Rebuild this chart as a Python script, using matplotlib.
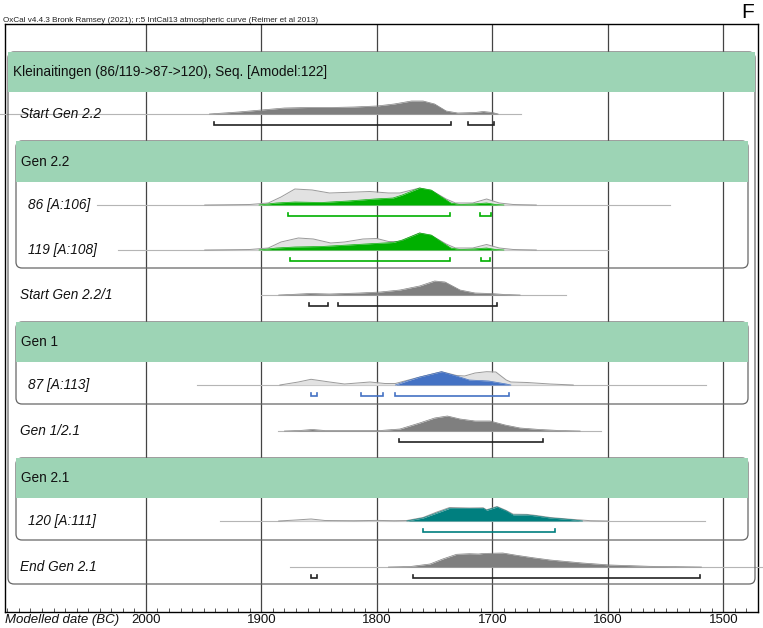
import matplotlib
matplotlib.use("Agg")
import matplotlib.pyplot as plt
import matplotlib.transforms as mtransforms
from matplotlib.patches import FancyBboxPatch, Rectangle
from matplotlib.ticker import MultipleLocator

plt.rcParams["font.family"] = ["Liberation Sans", "DejaVu Sans"]

# ── data (years BC, density heights in px) ──
start22_yr = [1945, 1920, 1900, 1880, 1860, 1840, 1820, 1800, 1785, 1770, 1760, 1750, 1740, 1730, 1715, 1708, 1700, 1695]
start22_h = [0, 2, 4, 6, 6.5, 6.5, 7, 8, 10, 13, 13, 10, 3, 1, 1.5, 2.5, 1.5, 0]
start22_rng = [(1941, 1736), (1721, 1699)]

r86_prior_yr = [1949, 1910, 1894, 1883, 1871, 1856, 1841, 1829, 1806, 1790, 1780, 1763, 1752, 1740, 1732, 1717, 1705, 1694, 1682, 1662]
r86_prior_h = [0, 0.5, 2, 8, 16, 15, 12, 12.5, 13.5, 12, 12, 17, 14, 6, 2, 2, 6, 2, 0.5, 0]
r86_post_yr = [1902, 1887, 1871, 1848, 1825, 1802, 1786, 1778, 1763, 1753, 1744, 1736, 1728, 1717, 1705, 1697, 1690]
r86_post_h = [0, 2, 3, 2.5, 4, 6, 7, 10, 17, 15, 8, 2, 0.5, 1, 2, 0.5, 0]
r86_rng = [(1877, 1737), (1711, 1701)]

r119_prior_yr = [1949, 1910, 1894, 1883, 1868, 1855, 1840, 1828, 1812, 1800, 1790, 1780, 1763, 1752, 1740, 1732, 1717, 1705, 1694, 1682, 1662]
r119_prior_h = [0, 0.5, 2, 8, 12, 11, 7, 8, 11, 11.5, 8.5, 8.5, 17, 14, 6, 2, 2, 5.5, 2, 0.5, 0]
r119_post_yr = [1902, 1887, 1871, 1848, 1825, 1802, 1786, 1778, 1763, 1753, 1744, 1736, 1728, 1717, 1705, 1697, 1690]
r119_post_h = [0, 2, 3, 3.5, 5, 6.5, 7.5, 10, 17, 15, 8, 2, 0.5, 1, 2, 0.5, 0]
r119_rng = [(1875, 1737), (1710, 1702)]

start221_yr = [1885, 1875, 1858, 1841, 1815, 1797, 1780, 1763, 1750, 1741, 1728, 1715, 1702, 1689, 1676]
start221_h = [0, 0.5, 1.5, 1, 2, 3, 5, 9, 14, 13, 5, 2, 1.5, 0.5, 0]
start221_rng = [(1859, 1842), (1834, 1696)]

r87_prior_yr = [1884, 1868, 1857, 1841, 1828, 1806, 1793, 1784, 1766, 1744, 1731, 1724, 1715, 1705, 1697, 1688, 1684, 1670, 1650, 1630]
r87_prior_h = [0, 3, 5.7, 3, 1, 3, 1.5, 1.5, 7, 13.3, 9.5, 9, 12, 13.3, 13, 5, 3, 2.5, 1, 0]
r87_post_yr = [1784, 1774, 1763, 1744, 1731, 1720, 1703, 1688, 1684]
r87_post_h = [0, 4, 8, 13.3, 9, 5, 4, 1, 0]
r87_rng = [(1857, 1852), (1814, 1795), (1784, 1686)]

gen121_yr = [1880, 1867, 1856, 1845, 1797, 1780, 1763, 1750, 1739, 1728, 1715, 1702, 1689, 1676, 1659, 1642, 1624]
gen121_h = [0, 0.5, 1.5, 0.5, 0.5, 2, 8, 13, 15, 12, 10, 10, 6, 3, 1.5, 0.5, 0]
gen121_rng = [(1781, 1656)]

r120_prior_yr = [1885, 1870, 1857, 1845, 1820, 1800, 1785, 1774, 1760, 1748, 1737, 1720, 1708, 1705, 1696, 1688, 1682, 1670, 1662, 1650, 1633, 1615, 1600]
r120_prior_h = [0, 1, 2, 0.5, 0.3, 0.6, 0.3, 0.5, 3.5, 9, 13.5, 13, 13.2, 11.2, 14.5, 10.5, 6.8, 6.6, 5.5, 3.5, 1.8, 0.3, 0]
r120_post_yr = [1774, 1760, 1748, 1737, 1720, 1708, 1705, 1696, 1688, 1682, 1670, 1662, 1650, 1633, 1622]
r120_post_h = [0, 3, 8, 12.7, 12.5, 12.7, 10.7, 14, 10, 6, 6, 5, 3, 1.5, 0]
r120_rng = [(1760, 1646)]

end21_yr = [1790, 1771, 1754, 1743, 1731, 1720, 1712, 1708, 1702, 1691, 1679, 1665, 1650, 1622, 1598, 1564, 1519]
end21_h = [0, 0.5, 3, 8, 12.7, 13.3, 13, 13.5, 13.7, 14, 11.7, 9.3, 7, 4, 2, 0.7, 0]
end21_rng = [(1857, 1852), (1769, 1520)]

# ── colours ──
GREY = "#7f7f7f"
GREEN = "#00b000"
BLUE = "#4472c4"
TEAL = "#007f7f"
PRIOR = "#e2e2e2"
HEAD = "#9dd4b5"

# row table: label, label x (px), baseline y (px), line span (years), post, prior, colour, ranges
rows = [
    ("Start Gen 2.2", 20, 114, (2126, 1675), (start22_yr, start22_h), None, GREY, start22_rng),
    ("86 [A:106]", 28, 205, (2042, 1546), (r86_post_yr, r86_post_h), (r86_prior_yr, r86_prior_h), GREEN, r86_rng),
    ("119 [A:108]", 28, 250, (2024, 1600), (r119_post_yr, r119_post_h), (r119_prior_yr, r119_prior_h), GREEN, r119_rng),
    ("Start Gen 2.2/1", 20, 295, (1900, 1636), (start221_yr, start221_h), None, GREY, start221_rng),
    ("87 [A:113]", 28, 385, (1956, 1515), (r87_post_yr, r87_post_h), (r87_prior_yr, r87_prior_h), BLUE, r87_rng),
    ("Gen 1/2.1", 20, 431, (1886, 1606), (gen121_yr, gen121_h), None, GREY, gen121_rng),
    ("120 [A:111]", 28, 521, (1936, 1516), (r120_post_yr, r120_post_h), (r120_prior_yr, r120_prior_h), TEAL, r120_rng),
    ("End Gen 2.1", 20, 567, (1875, 1466), (end21_yr, end21_h), None, GREY, end21_rng),
]

# group boxes: title, left, top, right, bottom, header bottom (px)
groups = [
    ("Kleinaitingen (86/119->87->120), Seq. [Amodel:122]", 8, 52, 755, 584, 92),
    ("Gen 2.2", 16, 141, 748, 268, 182),
    ("Gen 1", 16, 322, 748, 404, 362),
    ("Gen 2.1", 16, 458, 748, 540, 498),
]

W, H = 763, 628
fig = plt.figure(figsize=(W / 100, H / 100), dpi=100)
ax = fig.add_axes([5 / W, 16 / H, 753 / W, 588 / H])
ax.set_xlim(2122, 1470)
ax.set_ylim(612, 24)

# pixel transform (origin top-left of figure)
px = mtransforms.Affine2D().scale(1 / W, -1 / H).translate(0, 1) + fig.transFigure
lab_tr = mtransforms.blended_transform_factory(px, ax.transData)

ax.set_xticks([2000, 1900, 1800, 1700, 1600, 1500])
ax.xaxis.set_minor_locator(MultipleLocator(10))
ax.tick_params(axis="x", which="major", length=0, pad=1.5, labelsize=9.5, colors="#111111")
ax.tick_params(axis="x", which="minor", direction="in", length=3, width=0.7, color="#555555")
ax.set_yticks([])
ax.set_axisbelow(True)
ax.grid(axis="x", which="major", color="#444444", lw=0.9)
for sp in ax.spines.values():
    sp.set_color("black")
    sp.set_linewidth(1.0)

# group boxes with green headers
for title, x0, y0, x1, y1, yh in groups:
    box = FancyBboxPatch((x0, y0), x1 - x0, y1 - y0,
                         boxstyle="round,pad=0,rounding_size=6",
                         transform=px, fill=False, ec="#666666", lw=0.9,
                         zorder=1, clip_on=False)
    fig.add_artist(box)
    head = Rectangle((x0, y0), x1 - x0, yh - y0, transform=px,
                     fc=HEAD, ec="none", zorder=2, clip_on=False)
    fig.add_artist(head)
    fig.text((x0 + 5) / W, 1 - (y0 + yh) / 2 / H, title, fontsize=9.8,
             va="center", ha="left", color="#111111", zorder=3)

# distributions
for label, lx, y, span, post, prior, col, rngs in rows:
    ax.plot(span, [y, y], color="#b5b5b5", lw=0.8, zorder=3, clip_on=False)
    if prior is not None:
        yr, h = prior
        ax.fill_between(yr, [y] * len(h), [y - v for v in h], color=PRIOR, lw=0, zorder=3)
        ax.plot(yr, [y - v for v in h], color="#9a9a9a", lw=0.7, zorder=4)
    yr, h = post
    ax.fill_between(yr, [y] * len(h), [y - v for v in h], color=col, lw=0, zorder=5)
    ax.plot(yr, [y - v for v in h], color=col, lw=0.5, zorder=5)
    bcol = "#222222" if col == GREY else col
    for s, e in rngs:
        ax.plot([s, s, e, e], [y + 8, y + 11, y + 11, y + 8], color=bcol,
                lw=1.2, zorder=5, solid_joinstyle="miter")
    ax.text(lx, y, label, transform=lab_tr, fontsize=9.8, style="italic",
            va="center", ha="left", color="#111111", zorder=6)

fig.text(3 / W, 1 - 21.5 / H,
         "OxCal v4.4.3 Bronk Ramsey (2021); r:5 IntCal13 atmospheric curve (Reimer et al 2013)",
         fontsize=5.9, va="baseline", ha="left", color="#222222")
fig.text(748 / W, 1 - 12 / H, "F", fontsize=15, va="center", ha="center")
fig.text(5 / W, 1 - 620 / H, "Modelled date (BC)", fontsize=9.5, style="italic",
         va="center", ha="left", color="#111111")

fig.savefig("out.png", dpi=100)
